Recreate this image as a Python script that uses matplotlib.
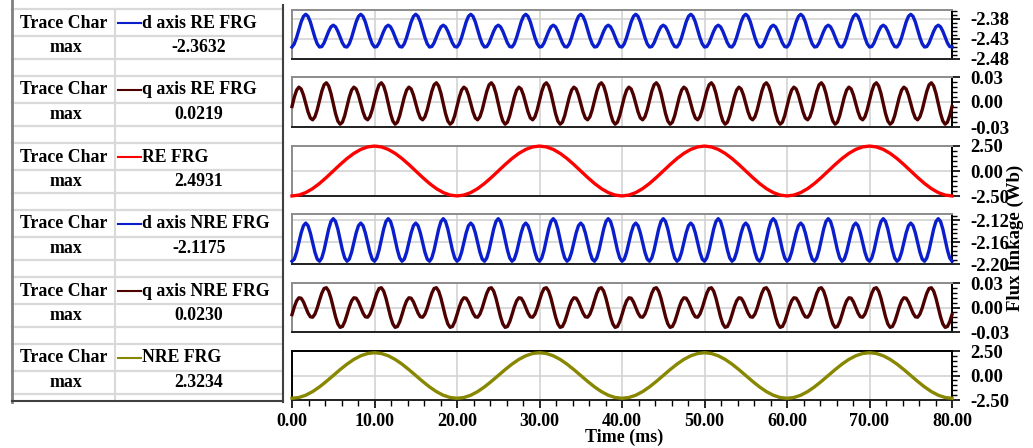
import numpy as np
import matplotlib.pyplot as plt
from matplotlib.ticker import AutoMinorLocator, MultipleLocator

plt.rcParams['font.family'] = ['Liberation Serif', 'DejaVu Serif']
plt.rcParams['font.weight'] = 'bold'
plt.rcParams['font.size'] = 13

W, H = 1033, 448
T_END = 80.0  # ms

# one 6.67 ms cycle (24 samples) of the dq flux linkages, Wb
d_re_cycle = [-2.4450, -2.4370, -2.4213, -2.4015, -2.3823, -2.3685, -2.3632, -2.3685,
              -2.3823, -2.4015, -2.4213, -2.4370, -2.4450, -2.4439, -2.4348, -2.4206,
              -2.4057, -2.3946, -2.3905, -2.3946, -2.4057, -2.4206, -2.4348, -2.4439]
q_re_cycle = [-0.0052, 0.0055, 0.0135, 0.0169, 0.0148, 0.0079, -0.0017, -0.0113,
              -0.0182, -0.0203, -0.0169, -0.0089, 0.0018, 0.0122, 0.0196, 0.0219,
              0.0183, 0.0098, -0.0017, -0.0132, -0.0217, -0.0253, -0.0230, -0.0156]
d_nre_cycle = [-2.1950, -2.1911, -2.1786, -2.1611, -2.1433, -2.1303, -2.1255, -2.1303,
               -2.1433, -2.1611, -2.1786, -2.1911, -2.1950, -2.1890, -2.1746, -2.1554,
               -2.1364, -2.1226, -2.1175, -2.1226, -2.1364, -2.1554, -2.1746, -2.1890]
q_nre_cycle = [-0.0083, 0.0006, 0.0077, 0.0113, 0.0108, 0.0065, 0.0000, -0.0065,
               -0.0108, -0.0113, -0.0077, -0.0006, 0.0083, 0.0166, 0.0221, 0.0230,
               0.0191, 0.0108, 0.0000, -0.0108, -0.0191, -0.0231, -0.0221, -0.0166]
# one 20 ms cycle (24 samples) of the phase flux linkages, Wb
re_cycle = [-2.4931, -2.4081, -2.1591, -1.7629, -1.2466, -0.6452, 0.0, 0.6452,
            1.2466, 1.7629, 2.1591, 2.4081, 2.4931, 2.4081, 2.1591, 1.7629,
            1.2466, 0.6452, 0.0, -0.6452, -1.2466, -1.7629, -2.1591, -2.4081]
nre_cycle = [-2.3234, -2.2442, -2.0121, -1.6429, -1.1617, -0.6013, 0.0, 0.6013,
             1.1617, 1.6429, 2.0121, 2.2442, 2.3234, 2.2442, 2.0121, 1.6429,
             1.1617, 0.6013, 0.0, -0.6013, -1.1617, -1.6429, -2.0121, -2.2442]

names = ['d axis RE FRG', 'q axis RE FRG', 'RE FRG',
         'd axis NRE FRG', 'q axis NRE FRG', 'NRE FRG']
cycles = [d_re_cycle, q_re_cycle, re_cycle, d_nre_cycle, q_nre_cycle, nre_cycle]
periods = [20 / 3, 20 / 3, 20.0, 20 / 3, 20 / 3, 20.0]
colors = ['#0a1ecc', '#4d0000', '#ff0000', '#0a1ecc', '#4d0000', '#878700']

y_limits = [(-2.475, -2.3525), (-0.0285, 0.0285), (-2.5, 2.5),
            (-2.20, -2.109), (-0.0285, 0.0285), (-2.5, 2.5)]
y_ticks = [[-2.475, -2.425, -2.375], [-0.0285, 0.0, 0.0285], [-2.5, 0.0, 2.5],
           [-2.20, -2.16, -2.12], [-0.0285, 0.0, 0.0285], [-2.5, 0.0, 2.5]]
y_ticklabels = [['-2.48', '-2.43', '-2.38'], ['-0.03', '0.00', '0.03'],
                ['-2.50', '0.00', '2.50'], ['-2.20', '-2.16', '-2.12'],
                ['-0.03', '0.00', '0.03'], ['-2.50', '0.00', '2.50']]
x_ticks = [0, 10, 20, 30, 40, 50, 60, 70, 80]


def repeat_cycle(cycle, period):
    n = int(round(T_END / period))
    vals = np.append(np.tile(cycle, n), cycle[0])
    t = np.linspace(0, T_END, len(vals))
    return t, vals


fig = plt.figure(figsize=(W / 100, H / 100), dpi=100)

# trace table on the left, drawn in pixel coordinates
tab = fig.add_axes([0, 0, 1, 1])
tab.set_xlim(0, W)
tab.set_ylim(H, 0)
tab.axis('off')
tab.patch.set_visible(False)

grid_c = '#d9d9d9'
tab.plot([115, 115], [9, 401], color=grid_c, lw=1.5)
for i in range(6):
    base = 9 + 67 * i
    for yy in (base, base + 27, base + 50):
        tab.plot([12, 283], [yy, yy], color=grid_c, lw=1.6)
tab.plot([11.5, 11.5], [0, 402], color='#808080', lw=2.0)
tab.plot([283, 283], [5, 402], color='#404040', lw=1.5)
tab.plot([11.5, 283], [401, 401], color='#404040', lw=1.5)

fig_series = []
for i in range(6):
    t, v = repeat_cycle(cycles[i], periods[i])
    fig_series.append((t, v))
    base = 9 + 67 * i
    y_head = base + 14
    y_max = base + 38.5
    tab.text(64, y_head, 'Trace Char', ha='center', va='center', fontsize=12.8)
    tab.plot([118, 141], [y_head, y_head], color=colors[i], lw=1.5)
    tab.text(142, y_head, names[i], ha='left', va='center', fontsize=12.8)
    tab.text(66, y_max, 'max', ha='center', va='center', fontsize=12.8)
    tab.text(199, y_max, f'{v.max():.4f}', ha='center', va='center', fontsize=12.8)

# stacked traces
x0, x1 = 292, 952
tops = [10, 77, 146, 214, 283, 351]
bottoms = [59, 127, 196, 264, 332, 400]

for i in range(6):
    ax = fig.add_axes([x0 / W, 1 - bottoms[i] / H, (x1 - x0) / W, (bottoms[i] - tops[i]) / H])
    t, v = fig_series[i]
    ax.plot(t, v, color=colors[i], lw=2.4, solid_joinstyle='round', clip_on=False, zorder=3)
    ax.set_xlim(0, T_END)
    ax.set_ylim(*y_limits[i])

    ax.yaxis.tick_right()
    ax.set_yticks(y_ticks[i])
    ax.set_yticklabels(y_ticklabels[i])
    ax.yaxis.set_minor_locator(AutoMinorLocator(5))
    ax.tick_params(axis='y', which='major', direction='out', length=6, width=1.2,
                   pad=7, labelsize=13.5)
    ax.tick_params(axis='y', which='minor', direction='out', length=3.5, width=1.0)

    ax.set_xticks(x_ticks)
    ax.xaxis.set_minor_locator(MultipleLocator(2))
    if i < 5:
        ax.tick_params(axis='x', which='both', bottom=False, labelbottom=False)
    else:
        ax.set_xticklabels([f'{x:.2f}' for x in x_ticks])
        ax.tick_params(axis='x', which='major', direction='out', length=6, width=1.2,
                       pad=3, labelsize=13)
        ax.tick_params(axis='x', which='minor', direction='out', length=4, width=1.0)

    ax.grid(True, which='major', color='#d0d0d0', lw=1.1)
    ax.set_axisbelow(True)

    edge = '#8c8c8c' if i < 5 else 'black'
    ax.spines['top'].set_color(edge)
    ax.spines['left'].set_color(edge)
    ax.spines['bottom'].set_color('#202020')
    ax.spines['right'].set_color('black')
    for s in ax.spines.values():
        s.set_linewidth(1.4)

fig.text(624 / W, 1 - 437 / H, 'Time (ms)', ha='center', va='center', fontsize=13)
fig.text(1015 / W, 1 - 238 / H, 'Flux linkage (Wb)', ha='center', va='center',
         rotation=90, fontsize=13.5)

fig.savefig('out.png', dpi=100)
